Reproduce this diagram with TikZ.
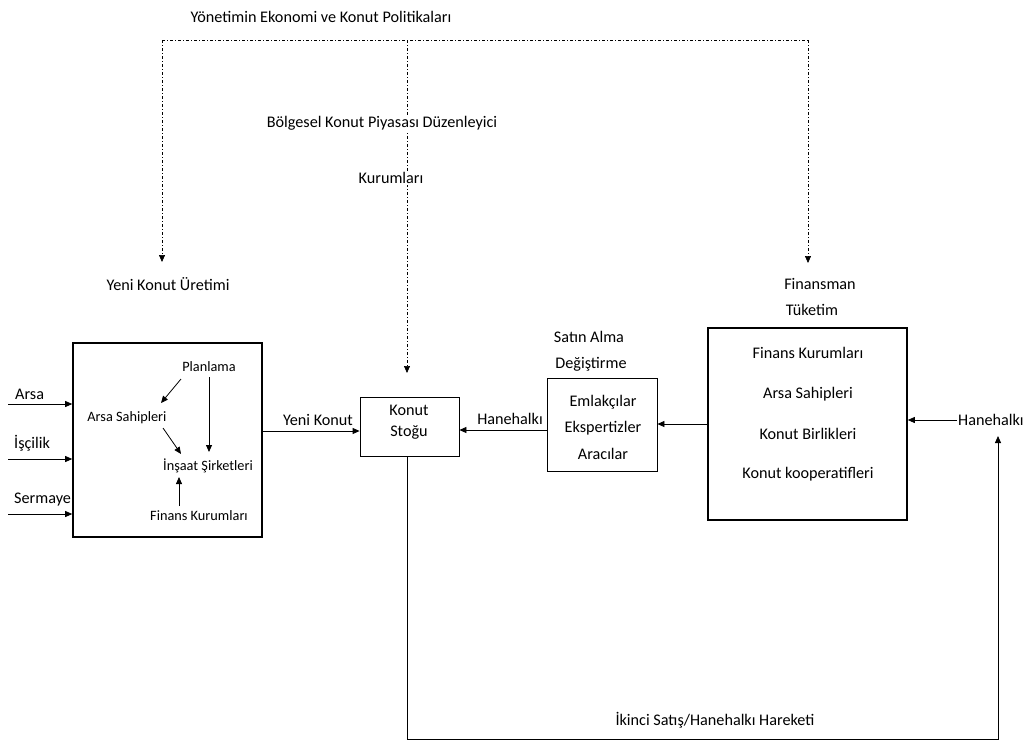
\documentclass[tikz,border=0pt]{standalone}
\usepackage{fontspec}
\setmainfont{Carlito}
\usetikzlibrary{arrows.meta}
\begin{document}
\begin{tikzpicture}[x=1pt,y=-1pt,
  lbl/.style={font=\fontsize{16.2}{18}\selectfont, inner sep=1pt},
  sml/.style={font=\fontsize{14.3}{16}\selectfont, inner sep=1pt},
  thickbox/.style={draw, line width=1.6pt},
  thinbox/.style={draw, line width=0.8pt},
  arr/.style={-{Triangle[length=7pt,width=6pt]}, line width=0.8pt},
  dd/.style={dash pattern=on 3pt off 2pt on 1pt off 2pt, line width=0.7pt, -{Triangle[length=7pt,width=6pt]}},
  ddl/.style={dash pattern=on 3pt off 2pt on 1pt off 2pt, line width=0.7pt}]
\useasboundingbox (0,0) rectangle (1033,742);

% texts at top
\node[lbl] (pol) at (321,17) {Yönetimin Ekonomi ve Konut Politikaları};
\coordinate (tl) at (162,40);
\coordinate (tm) at (407,40);
\coordinate (tr) at (808,40);
\coordinate (el) at (162,262);
\coordinate (em) at (407,373);
\coordinate (er) at (808,263);
\draw[ddl] (tl) -- (tr);
\draw[dd] (tl) -- (el);
\draw[dd] (tm) -- (em);
\draw[dd] (tr) -- (er);
\node[lbl, fill=white] (bol) at (382,123) {Bölgesel Konut Piyasası Düzenleyici};
\node[lbl, fill=white] (kur) at (391,178) {Kurumları};

\node[lbl] (yku) at (168,284) {Yeni Konut Üretimi};

% left box
\node[thickbox, minimum width=189pt, minimum height=194pt] (lb) at (167.5,440) {};
\node[sml] (plan) at (209,367) {Planlama};
\node[sml] (as) at (127,418) {Arsa Sahipleri};
\node[sml] (ins) at (208,466) {İnşaat Şirketleri};
\node[sml] (fk) at (199,516) {Finans Kurumları};
\draw[arr] (181,379) -- (161,403);
\draw[arr] (209,377) -- (209,452);
\draw[arr] (163,428) -- (181,454);
\draw[arr] (179,506) -- (179,477);

\node[lbl, anchor=west] (arsa) at (14,394) {Arsa};
\node[lbl, anchor=west] (isc) at (13,443) {İşçilik};
\node[lbl, anchor=west] (ser) at (13,500) {Sermaye};
\coordinate (a0) at (8,404);
\coordinate (i0) at (8,459);
\coordinate (s0) at (8,514);
\draw[arr] (a0) -- (a0 -| lb.west);
\draw[arr] (i0) -- (i0 -| lb.west);
\draw[arr] (s0) -- (s0 -| lb.west);

% Konut Stogu
\node[thinbox, minimum width=99pt, minimum height=59pt] (ks) at (409.5,426.5) {};
\node[lbl] (kst1) at (409,410) {Konut};
\node[lbl] (kst2) at (409,432) {Stoğu};
\draw[arr] (lb.east |- 0,431) -- (ks.west |- 0,431);
\node[lbl] (yk) at (318,420) {Yeni Konut};

% Emlakcilar
\node[thinbox, minimum width=110pt, minimum height=93pt] (em2) at (602,424.5) {};
\node[lbl] (e1) at (603,402) {Emlakçılar};
\node[lbl] (e2) at (603,428) {Ekspertizler};
\node[lbl] (e3) at (603,454) {Aracılar};
\node[lbl] (sat) at (589,337) {Satın Alma};
\node[lbl] (deg) at (591,364) {Değiştirme};
\draw[arr] (em2.west |- 0,430) -- (ks.east |- 0,430);
\node[lbl] (hh1) at (510,419) {Hanehalkı};

% right box
\node[thickbox, minimum width=199pt, minimum height=192pt] (rb) at (807.5,424) {};
\node[lbl] (r1) at (808,353) {Finans Kurumları};
\node[lbl] (r2) at (808,394) {Arsa Sahipleri};
\node[lbl] (r3) at (808,434) {Konut Birlikleri};
\node[lbl] (r4) at (808,474) {Konut kooperatifleri};
\draw[arr] (rb.west |- 0,424) -- (em2.east |- 0,424);
\node[lbl] (fin) at (820,284) {Finansman};
\node[lbl] (tuk) at (812,310) {Tüketim};

\node[lbl, anchor=west] (hh2) at (957,420) {Hanehalkı};
\draw[arr] (hh2.west) -- (rb.east |- hh2.west);

% bottom loop
\coordinate (b1) at (407,739);
\coordinate (b2) at (998,739);
\draw[arr] (ks.south -| 407,0) -- (b1) -- (b2) -- (998,436);
\node[lbl] (iks) at (715,720) {İkinci Satış/Hanehalkı Hareketi};
\end{tikzpicture}
\end{document}
